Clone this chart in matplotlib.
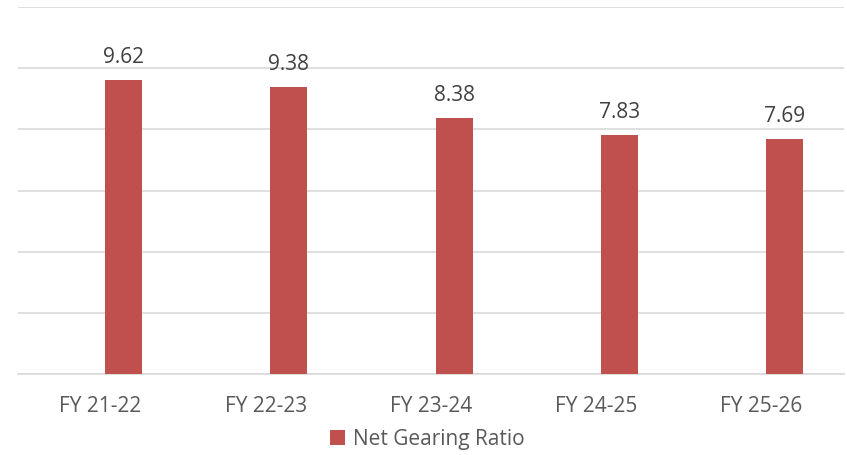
import matplotlib
matplotlib.use("Agg")
import matplotlib.pyplot as plt
import numpy as np

categories = ["FY 21-22", "FY 22-23", "FY 23-24", "FY 24-25", "FY 25-26"]
values = [9.62, 9.38, 8.38, 7.83, 7.69]
series_name = "Net Gearing Ratio"

plt.rcParams['font.family'] = ['Open Sans', 'DejaVu Sans']

fig = plt.figure(figsize=(8.47, 4.56), dpi=100)
ax = fig.add_axes([18/847, 1-375/456, 826/847, 367/456])

x = np.arange(len(categories))
offset = 0.14
bars = ax.bar(x + offset, values, width=0.224, color="#C0504D", label=series_name, zorder=3)
for xi, v in zip(x, values):
    ax.text(xi + offset, v + 0.42, f"{v:.2f}", ha="center", va="bottom",
            fontsize=15, color="#404040")

ax.set_xlim(-0.5, 4.5)
ax.set_ylim(0, 12)
ax.set_yticks(np.arange(0, 13, 2))
ax.set_yticklabels([])
ax.tick_params(axis="y", length=0)
ax.grid(axis="y", color="#D9D9D9", linewidth=1.2, zorder=0)
ax.set_xticks(x)
ax.set_xticklabels(categories, fontsize=15, color="#595959")
ax.tick_params(axis="x", length=0, pad=15)
for s in ["top", "right", "left"]:
    ax.spines[s].set_visible(False)
ax.spines["bottom"].set_color("#D9D9D9")
ax.spines["bottom"].set_linewidth(1.2)

leg = fig.legend(handles=[bars], labels=[series_name], loc="center",
                 bbox_to_anchor=(0.505, 1-440/456), frameon=False, fontsize=15,
                 handlelength=0.7, handleheight=0.7, handletextpad=0.4)
for t in leg.get_texts():
    t.set_color("#595959")

fig.savefig("out.png", dpi=100)
